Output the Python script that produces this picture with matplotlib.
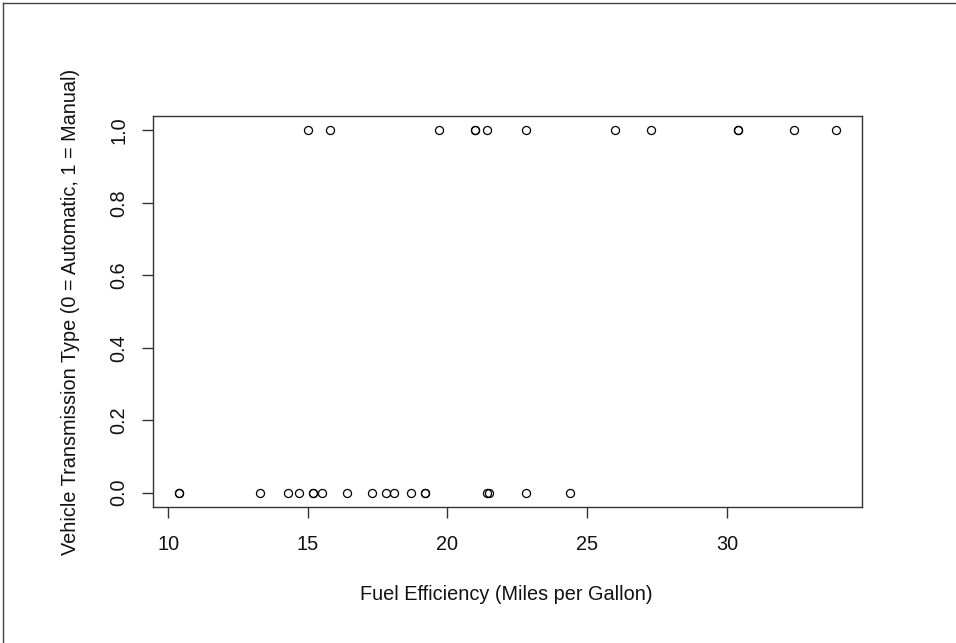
import numpy as np
import matplotlib.pyplot as plt
from matplotlib.lines import Line2D

plt.rcParams['font.family'] = ['Liberation Sans', 'DejaVu Sans']

# mpg and transmission type (0 = automatic, 1 = manual)
mpg = [21.0, 21.0, 22.8, 21.4, 18.7, 18.1, 14.3, 24.4, 22.8, 19.2, 17.8,
       16.4, 17.3, 15.2, 10.4, 10.4, 14.7, 32.4, 30.4, 33.9, 21.5, 15.5,
       15.2, 13.3, 19.2, 27.3, 26.0, 30.4, 15.8, 19.7, 15.0, 21.4]
am = [1, 1, 1, 0, 0, 0, 0, 0, 0, 0, 0,
      0, 0, 0, 0, 0, 0, 1, 1, 1, 0, 0,
      0, 0, 0, 1, 1, 1, 1, 1, 1, 1]
x_ticks = [10, 15, 20, 25, 30]
y_ticks = [0.0, 0.2, 0.4, 0.6, 0.8, 1.0]

W, H = 956, 643
fig = plt.figure(figsize=(W / 100, H / 100), dpi=100)
ax = fig.add_axes([153 / W, 1 - 507 / H, (862 - 153) / W, (507 - 116) / H])

ax.plot(mpg, am, 'o', mfc='none', mec='black', ms=5.8, mew=0.9)

fs = 14.3
ax.set_xlim(9.46, 34.84)
ax.set_ylim(-0.04, 1.04)
ax.set_xticks(x_ticks)
ax.set_yticks(y_ticks)
ax.set_xticklabels([str(t) for t in x_ticks], fontsize=fs, color='#111111')
ax.set_yticklabels([f'{t:.1f}' for t in y_ticks], fontsize=fs, color='#111111',
                   rotation=90, va='center')
ax.tick_params(length=8, width=1, color='#333333')
ax.tick_params(axis='x', pad=12)
ax.tick_params(axis='y', pad=9.5)
for s in ax.spines.values():
    s.set_color('#333333')
    s.set_linewidth(1)

ax.set_xlabel('Fuel Efficiency (Miles per Gallon)', fontsize=fs, color='#111111',
              va='center')
ax.set_ylabel('Vehicle Transmission Type (0 = Automatic, 1 = Manual)',
              fontsize=fs, color='#111111', va='center')
ax.xaxis.set_label_coords(0.499, (507 - 595) / 391)
ax.yaxis.set_label_coords((70 - 153) / 709, 0.5)

# screenshot frame (top and left edges)
fig.add_artist(Line2D([3 / W, 3 / W], [0, 1 - 3 / H], transform=fig.transFigure,
                      color='#444444', lw=1))
fig.add_artist(Line2D([3 / W, 1], [1 - 3 / H, 1 - 3 / H], transform=fig.transFigure,
                      color='#444444', lw=1))

fig.savefig('out.png', dpi=100)
